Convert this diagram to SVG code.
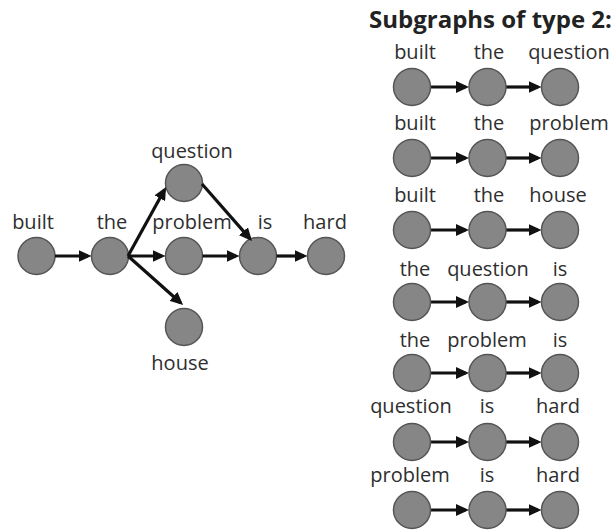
<svg xmlns="http://www.w3.org/2000/svg" width="615" height="530" viewBox="0 0 615 530">
  <defs>
    <marker id="ah" markerUnits="userSpaceOnUse" markerWidth="13" markerHeight="12" refX="9.5" refY="6" orient="auto">
      <path d="M0,0 L13,6 L0,12 z" fill="#111"/>
    </marker>
  </defs>
  <style>
    .n { fill: #868686; stroke: #555; stroke-width: 1.5; }
    .t { font-family: "Open Sans", "Liberation Sans", sans-serif; font-size: 20px; fill: #2e2e2e; text-anchor: middle; }
    .title { font-family: "Open Sans", "Liberation Sans", sans-serif; font-size: 24px; font-weight: bold; fill: #222; }
    .e { stroke: #111; stroke-width: 3.2; fill: none; marker-end: url(#ah); }
  </style>
  <rect width="615" height="530" fill="#fff"/>

  <!-- Left graph -->
  <g id="node-built"><circle class="n" cx="36.5" cy="256" r="18.5"/><text class="t" x="33" y="229">built</text></g>
  <g id="node-the"><circle class="n" cx="110" cy="256" r="18.5"/><text class="t" x="112" y="229">the</text></g>
  <g id="node-question"><circle class="n" cx="184" cy="183" r="18.5"/><text class="t" x="192" y="158">question</text></g>
  <g id="node-problem"><circle class="n" cx="184" cy="256" r="18.5"/><text class="t" x="192" y="229">problem</text></g>
  <g id="node-house"><circle class="n" cx="184" cy="327" r="18.5"/><text class="t" x="180" y="370">house</text></g>
  <g id="node-is"><circle class="n" cx="258" cy="256" r="18.5"/><text class="t" x="265" y="229">is</text></g>
  <g id="node-hard"><circle class="n" cx="326" cy="256" r="18.5"/><text class="t" x="325" y="229">hard</text></g>

  <g id="connectors">
    <line class="e" x1="55" y1="256" x2="88" y2="256"/>
    <line class="e" x1="128" y1="256" x2="162" y2="256"/>
    <line class="e" x1="128" y1="256" x2="164.4" y2="190"/>
    <line class="e" x1="128" y1="256" x2="180.5" y2="302.7"/>
    <line class="e" x1="202" y1="184" x2="249.7" y2="238.4"/>
    <line class="e" x1="202.5" y1="256" x2="236" y2="256"/>
    <line class="e" x1="276.5" y1="256" x2="304" y2="256"/>

    <line class="e" x1="430.5" y1="87" x2="465.5" y2="87"/>
    <line class="e" x1="506" y1="87" x2="538" y2="87"/>
    <line class="e" x1="430.5" y1="158" x2="465.5" y2="158"/>
    <line class="e" x1="506" y1="158" x2="538" y2="158"/>
    <line class="e" x1="430.5" y1="230" x2="465.5" y2="230"/>
    <line class="e" x1="506" y1="230" x2="538" y2="230"/>
    <line class="e" x1="430.5" y1="302" x2="465.5" y2="302"/>
    <line class="e" x1="506" y1="302" x2="538" y2="302"/>
    <line class="e" x1="430.5" y1="373" x2="465.5" y2="373"/>
    <line class="e" x1="506" y1="373" x2="538" y2="373"/>
    <line class="e" x1="430.5" y1="442" x2="465.5" y2="442"/>
    <line class="e" x1="506" y1="442" x2="538" y2="442"/>
    <line class="e" x1="430.5" y1="510" x2="465.5" y2="510"/>
    <line class="e" x1="506" y1="510" x2="538" y2="510"/>
  </g>

  <!-- Right: subgraphs -->
  <text class="title" x="369" y="28">Subgraphs of type 2:</text>

  <g id="sub1">
    <circle class="n" cx="412" cy="87" r="18.5"/><circle class="n" cx="487.5" cy="87" r="18.5"/><circle class="n" cx="560" cy="87" r="18.5"/>
    <text class="t" x="415" y="59">built</text><text class="t" x="489" y="59">the</text><text class="t" x="569" y="59">question</text>
  </g>
  <g id="sub2">
    <circle class="n" cx="412" cy="158" r="18.5"/><circle class="n" cx="487.5" cy="158" r="18.5"/><circle class="n" cx="560" cy="158" r="18.5"/>
    <text class="t" x="415" y="130">built</text><text class="t" x="489" y="130">the</text><text class="t" x="569" y="130">problem</text>
  </g>
  <g id="sub3">
    <circle class="n" cx="412" cy="230" r="18.5"/><circle class="n" cx="487.5" cy="230" r="18.5"/><circle class="n" cx="560" cy="230" r="18.5"/>
    <text class="t" x="415" y="202">built</text><text class="t" x="489" y="202">the</text><text class="t" x="558" y="202">house</text>
  </g>
  <g id="sub4">
    <circle class="n" cx="412" cy="302" r="18.5"/><circle class="n" cx="487.5" cy="302" r="18.5"/><circle class="n" cx="560" cy="302" r="18.5"/>
    <text class="t" x="415" y="276">the</text><text class="t" x="488" y="276">question</text><text class="t" x="560" y="276">is</text>
  </g>
  <g id="sub5">
    <circle class="n" cx="412" cy="373" r="18.5"/><circle class="n" cx="487.5" cy="373" r="18.5"/><circle class="n" cx="560" cy="373" r="18.5"/>
    <text class="t" x="415" y="347">the</text><text class="t" x="487" y="347">problem</text><text class="t" x="560" y="347">is</text>
  </g>
  <g id="sub6">
    <circle class="n" cx="412" cy="442" r="18.5"/><circle class="n" cx="487.5" cy="442" r="18.5"/><circle class="n" cx="560" cy="442" r="18.5"/>
    <text class="t" x="411" y="413">question</text><text class="t" x="487" y="413">is</text><text class="t" x="558" y="413">hard</text>
  </g>
  <g id="sub7">
    <circle class="n" cx="412" cy="510" r="18.5"/><circle class="n" cx="487.5" cy="510" r="18.5"/><circle class="n" cx="560" cy="510" r="18.5"/>
    <text class="t" x="410" y="482">problem</text><text class="t" x="487" y="482">is</text><text class="t" x="558" y="482">hard</text>
  </g>
</svg>
